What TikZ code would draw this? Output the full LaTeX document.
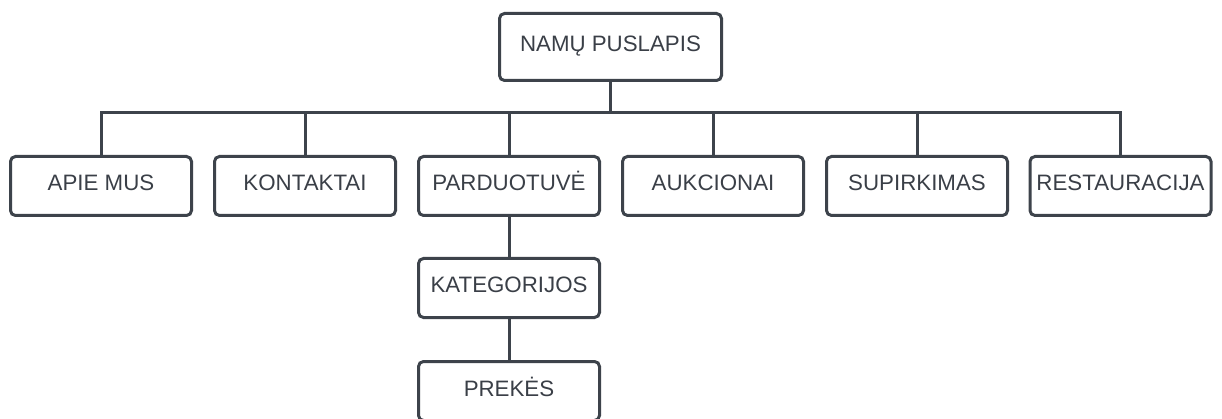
\documentclass[tikz,border=0pt]{standalone}
\usepackage{fontspec}
\setmainfont{Liberation Sans}
\definecolor{edge}{HTML}{3D434B}
\definecolor{ink}{HTML}{3A3F47}
\begin{document}
\begin{tikzpicture}[x=1pt,y=-1pt,
  page/.style={draw=edge, line width=3pt, rounded corners=5pt, fill=white,
    minimum width=181pt, minimum height=59pt, inner sep=0pt,
    text height=16pt, text depth=6pt,
    text=ink, font=\fontsize{22.3}{25}\selectfont},
  link/.style={draw=edge, line width=3pt}]
\useasboundingbox (0,0) rectangle (1222,419);
\clip (0,0) rectangle (1222,419);
\coordinate (bus) at (0,113);
% home page
\node[page, minimum width=222pt, minimum height=67pt] (home) at (610.5,47) {NAMŲ PUSLAPIS};
% first level
\node[page] (apie) at (101,186) {APIE MUS};
\node[page] (kont) at (305,186) {KONTAKTAI};
\node[page] (pard) at (509,186) {PARDUOTUVĖ};
\node[page] (aukc) at (713,186) {AUKCIONAI};
\node[page] (supi) at (917,186) {SUPIRKIMAS};
\node[page] (rest) at (1120.5,186) {RESTAURACIJA};
% shop branch
\node[page] (kat) at (509,288) {KATEGORIJOS};
\node[page] (prek) at (509,391) {PREKĖS};
% connectors
\foreach \c in {apie,kont,pard,aukc,supi,rest}
  \draw[link] (home.south) -- (home.south |- bus) -| (\c.north);
\draw[link] (pard.south) -- (kat.north);
\draw[link] (kat.south) -- (prek.north);
\end{tikzpicture}
\end{document}
